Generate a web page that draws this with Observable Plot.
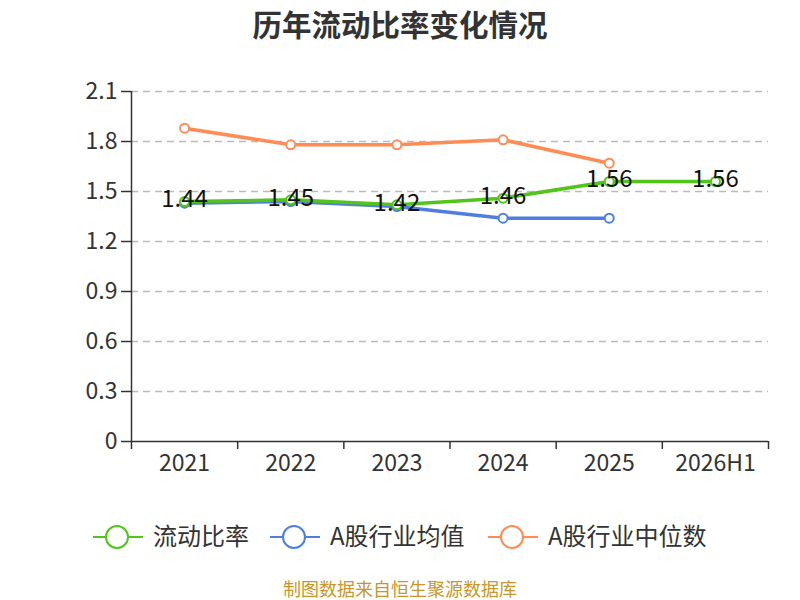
<!DOCTYPE html>
<html><head><meta charset="utf-8">
<script src="https://cdn.jsdelivr.net/npm/d3@7"></script>
<script src="https://cdn.jsdelivr.net/npm/@observablehq/plot@0.6"></script>
<style>
body{margin:0;background:#fff;font-family:"Noto Sans CJK SC","Noto Sans",sans-serif;}
#wrap{width:800px;height:600px;position:relative;}
#title{position:absolute;top:0;left:0;width:800px;text-align:center;font-size:29.5px;font-weight:bold;color:#333;line-height:46px;}
#chart{position:absolute;top:50px;left:0;}
#legend{position:absolute;top:517px;left:0;width:800px;height:40px;}
#source{position:absolute;top:576px;left:0;width:800px;text-align:center;font-size:18px;color:#c8962b;line-height:24px;}
</style></head><body>
<div id="wrap">
<div id="title">历年流动比率变化情况</div>
<div id="chart"></div>
<svg id="legend" width="800" height="40"></svg>
<div id="source">制图数据来自恒生聚源数据库</div>
</div>
<script>
const categories = ["2021","2022","2023","2024","2025","2026H1"];
const ratio = [1.44,1.45,1.42,1.46,1.56,1.56];
const industryMean = [1.43,1.44,1.41,1.34,1.34];
const industryMedian = [1.88,1.78,1.78,1.81,1.67];
const yTicks = [0,0.3,0.6,0.9,1.2,1.5,1.8,2.1];
const seriesNames = ["流动比率","A股行业均值","A股行业中位数"];
const colors = ["#52c41a","#4e7fe0","#ff8c55"];

const rows = (vals, s) => vals.map((v,i)=>({i, v, s}));
const green = rows(ratio, seriesNames[0]);
const blue = rows(industryMean, seriesNames[1]);
const orange = rows(industryMedian, seriesNames[2]);
const idx = categories.map((c,i)=>i);
const bounds = [-0.5, ...idx.map(i=>i+0.5)];

const font = '"Noto Sans CJK SC","Noto Sans",sans-serif';
const plot = Plot.plot({
  width: 800, height: 420,
  marginLeft: 131, marginRight: 32, marginTop: 41, marginBottom: 29,
  style: {fontFamily: font, background: "transparent", overflow: "visible"},
  x: {type: "linear", domain: [-0.5, 5.5], label: null},
  y: {domain: [0, 2.1], label: null},
  marks: [
    Plot.gridY(yTicks.filter(t=>t>0), {stroke:"#bbb", strokeOpacity:1, strokeDasharray:"7,5", strokeWidth:1.5}),
    Plot.axisY({ticks: yTicks, tickSize: 10, tickPadding: 4, tickFormat: d=>String(d), fontSize: 23, color:"#333", stroke:"#333", strokeWidth: 1.5, label: null}),
    Plot.axisX({ticks: bounds, tickSize: 8, tickFormat: ()=>"", stroke:"#333", strokeWidth: 1.5, label: null}),
    Plot.axisX({ticks: idx, tickSize: 0, tickPadding: 13, tickFormat: i=>categories[i], fontSize: 23, color:"#333", label: null}),
    Plot.ruleY([0], {stroke:"#333", strokeWidth:1.5}),
    Plot.ruleX([-0.5], {stroke:"#333", strokeWidth:1.5}),
    Plot.line(orange, {x:"i", y:"v", stroke: colors[2], strokeWidth: 3.5}),
    Plot.line(blue, {x:"i", y:"v", stroke: colors[1], strokeWidth: 3.5}),
    Plot.line(green, {x:"i", y:"v", stroke: colors[0], strokeWidth: 3.5}),
    Plot.dot(orange, {x:"i", y:"v", r: 4.5, fill:"white", stroke: colors[2], strokeWidth: 2}),
    Plot.dot(blue, {x:"i", y:"v", r: 4.5, fill:"white", stroke: colors[1], strokeWidth: 2}),
    Plot.dot(green, {x:"i", y:"v", r: 4.5, fill:"white", stroke: colors[0], strokeWidth: 2}),
    Plot.text(green, {x:"i", y:"v", text: d=>d.v.toFixed(2), fill:"#111", fontSize: 24, dy: -2})
  ]
});
document.getElementById("chart").appendChild(plot);

// legend
const lg = d3.select("#legend");
const items = [
  {x: 93, tx: 153},
  {x: 270, tx: 330},
  {x: 488, tx: 548}
];
items.forEach((it,k)=>{
  const g = lg.append("g");
  g.append("line").attr("x1", it.x).attr("x2", it.x+50).attr("y1", 20).attr("y2", 20).attr("stroke", colors[k]).attr("stroke-width", 2);
  g.append("circle").attr("cx", it.x+24).attr("cy", 20).attr("r", 11).attr("fill","white").attr("stroke", colors[k]).attr("stroke-width", 2);
  g.append("text").attr("x", it.tx).attr("y", 20).attr("dy","0.35em").attr("font-size", 24).attr("fill","#333").attr("font-family", font).text(seriesNames[k]);
});
</script>
</body></html>
